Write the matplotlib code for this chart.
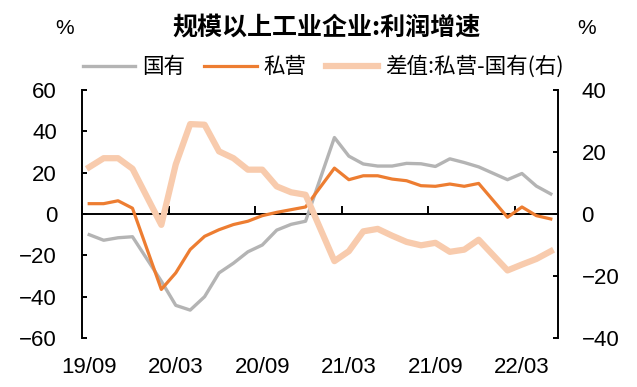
import matplotlib
matplotlib.use('Agg')
import matplotlib.pyplot as plt
import numpy as np

# months with data (no January figures: Jan-Feb are reported together)
months = ['2019-09', '2019-10', '2019-11', '2019-12',
          '2020-02', '2020-03', '2020-04', '2020-05', '2020-06', '2020-07',
          '2020-08', '2020-09', '2020-10', '2020-11', '2020-12',
          '2021-02', '2021-03', '2021-04', '2021-05', '2021-06', '2021-07',
          '2021-08', '2021-09', '2021-10', '2021-11', '2021-12',
          '2022-02', '2022-03', '2022-04', '2022-05']
state = [-10.0, -12.7, -11.5, -11.0,
         -32.5, -44.2, -46.5, -40.0, -28.5, -23.8,
         -18.3, -15.0, -7.8, -5.0, -3.5,
         37.0, 28.0, 24.2, 23.2, 23.2, 24.5,
         24.3, 23.0, 26.7, 24.9, 22.8,
         16.6, 19.6, 13.5, 9.7]
private = [5.0, 5.0, 6.4, 2.8,
           -36.5, -28.5, -17.2, -10.8, -7.6, -5.1,
           -3.5, -0.8, 0.8, 2.1, 3.4,
           22.2, 16.6, 18.5, 18.5, 16.9, 16.1,
           13.7, 13.4, 14.5, 13.4, 14.8,
           -1.6, 3.4, -0.8, -2.4]
diff = [15.1, 18.0, 18.0, 14.6,
        -3.5, 16.0, 29.0, 28.8, 20.2, 18.0,
        14.3, 14.3, 8.9, 7.0, 6.2,
        -15.2, -12.0, -5.6, -4.8, -7.0, -9.0,
        -10.1, -9.3, -12.2, -11.5, -8.3,
        -18.2, -16.3, -14.5, -12.0]
tick_labels = ['19/09', '20/03', '20/09', '21/03', '21/09', '22/03']
n_months = 33

start = 2019 * 12 + 9
x = np.array([int(m[:4]) * 12 + int(m[5:]) - start for m in months])

plt.rcParams['font.family'] = ['Liberation Sans', 'Noto Sans CJK SC']
cjk = ['Noto Sans CJK SC', 'DejaVu Sans']

grey = '#B4B4B4'
orange = '#ED7D31'
beige = '#F8CBAD'

fig = plt.figure(figsize=(6.37, 3.87), dpi=100)
ax = fig.add_axes([82 / 637, 49 / 387, 476 / 637, 248 / 387])
ax2 = ax.twinx()

l1, = ax.plot(x, state, color=grey, lw=2.4, label='国有', zorder=3)
l2, = ax.plot(x, private, color=orange, lw=2.3, label='私营', zorder=4)
l3, = ax2.plot(x, diff, color=beige, lw=4.5, label='差值:私营-国有(右)')

ax.set_xlim(-0.5, n_months - 0.5)
ax.set_ylim(-60, 60)
ax.set_yticks(np.arange(-60, 61, 20))
ax2.set_ylim(-40, 40)
ax2.set_yticks(np.arange(-40, 41, 20))

for s in ['top', 'right']:
    ax.spines[s].set_visible(False)
for s in ['top', 'bottom', 'left']:
    ax2.spines[s].set_visible(False)
ax.spines['left'].set_linewidth(1.4)
ax2.spines['right'].set_linewidth(1.4)
ax.spines['bottom'].set_position(('data', 0))
ax.spines['bottom'].set_linewidth(1.4)
ax.spines['bottom'].set_zorder(1)

ax.set_xticks(np.arange(-0.5, n_months, 6))
ax.tick_params(axis='x', direction='in', length=5.5, width=1.4, labelbottom=False)
ax.tick_params(axis='y', direction='in', length=3.4, width=1.4, labelsize=16, pad=18)
ax2.tick_params(axis='y', direction='in', length=3.4, width=1.4, labelsize=16, pad=17)

sec = ax.secondary_xaxis('bottom')
sec.set_xticks(np.arange(0, n_months, 6), tick_labels)
sec.tick_params(length=0, labelsize=16, pad=14)
sec.spines['bottom'].set_visible(False)

fig.text(326 / 637, 1 - 28 / 387, '规模以上工业企业:利润增速', ha='center', va='center',
         fontsize=18, fontweight='bold', family=cjk)
fig.text(65 / 637, 1 - 28 / 387, '%', ha='center', va='center', fontsize=15)
fig.text(587 / 637, 1 - 28 / 387, '%', ha='center', va='center', fontsize=15)

fig.legend(handles=[l1, l2, l3], loc='center', bbox_to_anchor=(323 / 637, 1 - 67 / 387),
           ncol=3, frameon=False, prop={'family': cjk, 'size': 15.5},
           handlelength=2.45, handletextpad=0.3, columnspacing=0.9)

fig.savefig('out.png', dpi=100)
